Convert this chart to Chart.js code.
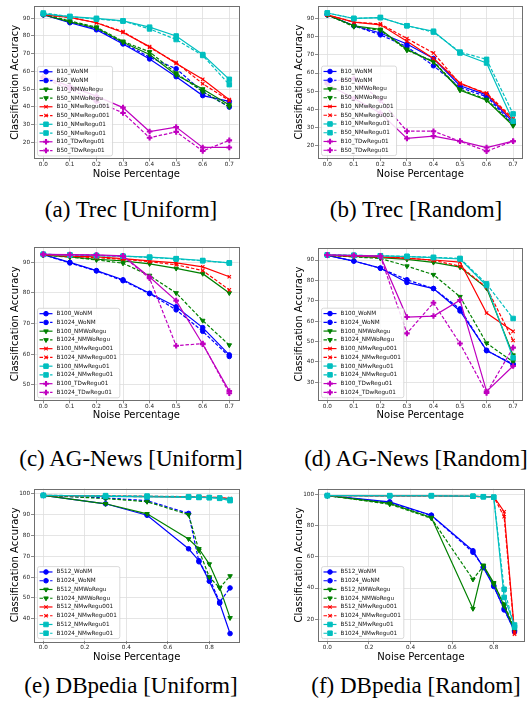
<!DOCTYPE html>
<html lang="en">
<head>
<meta charset="UTF-8">
<title>Classification Accuracy vs Noise Percentage</title>
<script src="https://cdn.jsdelivr.net/npm/chart.js@4"></script>
<style>
  body { margin: 0; background: #fff; }
  #page { position: relative; width: 532px; height: 705px; overflow: hidden; background: #fff; }
  .cell { position: absolute; }
  .caption { position: absolute; font-family: "Liberation Serif", "Times New Roman", serif; font-size: 23px; color: #000; white-space: nowrap; transform: translate(-50%, -50%); }
</style>
</head>
<body>
<div id="page"></div>

<script>
  // ---- x values and tick labels ----
  const xTrec = [0, 0.1, 0.2, 0.3, 0.4, 0.5, 0.6, 0.7];
  const xAg = [0, 0.1, 0.2, 0.3, 0.4, 0.5, 0.6, 0.7];
  const xDb = [0, 0.3, 0.5, 0.7, 0.75, 0.8, 0.85, 0.9];
  const xTicksTrec = [0, 0.1, 0.2, 0.3, 0.4, 0.5, 0.6, 0.7];
  const xTicksDb = [0, 0.2, 0.4, 0.6, 0.8];
  const yTicksTrec = [20, 30, 40, 50, 60, 70, 80, 90];
  const yTicksAgU = [50, 60, 70, 80, 90];
  const yTicksAgR = [30, 40, 50, 60, 70, 80, 90];
  const yTicksDbU = [40, 50, 60, 70, 80, 90, 100];
  const yTicksDbR = [20, 40, 60, 80, 100];

  // ---- (a) Trec [Uniform] ----
  const trecU_B10_WoNM        = [92, 87.5, 83.5, 75.5, 67, 57, 46.3, 43];
  const trecU_B50_WoNM        = [92, 88, 84, 76, 68, 61.5, 48.5, 39.8];
  const trecU_B10_NMWoRegu    = [92, 88, 84.5, 76.5, 69.5, 58, 50, 41];
  const trecU_B50_NMWoRegu    = [92.5, 88.5, 85, 77, 71, 59, 48.5, 40];
  const trecU_B10_NMwRegu001  = [92, 90.5, 87.5, 82, 74, 64.5, 55.5, 44];
  const trecU_B50_NMwRegu001  = [92, 90.5, 87.5, 82.5, 73.5, 65, 53, 43.5];
  const trecU_B10_NMwRegu01   = [92.5, 91, 90, 88.5, 85, 80, 69.5, 55.5];
  const trecU_B50_NMwRegu01   = [93, 91, 89.5, 88.5, 84, 78, 69, 52.5];
  const trecU_B10_TDwRegu01   = [57, 51.5, 46, 39.5, 26, 28.5, 17, 17];
  const trecU_B50_TDwRegu01   = [56, 50, 43, 36.5, 22.5, 25.8, 15, 21];

  // ---- (b) Trec [Random] ----
  const trecR_B10_WoNM        = [92, 86, 82, 76, 68, 53, 48, 33];
  const trecR_B50_WoNM        = [92, 86, 81, 74.5, 64, 52, 47, 32];
  const trecR_B10_NMWoRegu    = [92, 86, 84, 73, 66, 50.5, 45, 31];
  const trecR_B50_NMWoRegu    = [92, 85.5, 83.5, 72.5, 66.5, 51, 45.5, 31.5];
  const trecR_B10_NMwRegu001  = [92, 88, 86.5, 77.5, 68, 54.5, 48.5, 34];
  const trecR_B50_NMwRegu001  = [92, 88, 87, 79, 71, 54, 49, 35];
  const trecR_B10_NMwRegu01   = [93, 90, 90.5, 86, 83, 71, 65.5, 33.5];
  const trecR_B50_NMwRegu01   = [93, 90, 90.5, 86, 82.5, 71.5, 67.5, 37.5];
  const trecR_B10_TDwRegu01   = [54, 46, 38, 24, 25.3, 22.5, 19, 22.5];
  const trecR_B50_TDwRegu01   = [55, 57, 45, 28, 28, 22.5, 17, 22.5];

  // ---- (c) AG-News [Uniform] ----
  const agU_B100_WoNM         = [92.5, 90, 87.3, 84.3, 79.9, 75.5, 68.7, 59.8];
  const agU_B1024_WoNM        = [92.5, 89.8, 87.2, 84, 79.8, 74.5, 67.5, 59.3];
  const agU_B100_NMWoRegu     = [92.3, 91.8, 91, 90.5, 89.5, 88, 86.3, 80];
  const agU_B1024_NMWoRegu    = [92.3, 91.7, 90.8, 89.7, 85.7, 80, 71, 63];
  const agU_B100_NMwRegu001   = [92.5, 92, 91.8, 91.2, 90.5, 89.8, 88.5, 85.3];
  const agU_B1024_NMwRegu001  = [92.5, 92, 91.5, 91, 90.2, 89.2, 87.3, 81];
  const agU_B100_NMwRegu01    = [92.6, 92.4, 92.2, 92, 91.7, 91.2, 90.6, 89.8];
  const agU_B1024_NMwRegu01   = [92.6, 92.4, 92.2, 92, 91.6, 91.1, 90.5, 89.8];
  const agU_B100_TDwRegu01    = [92.6, 92.5, 92.4, 92.1, 85.2, 77.5, 63.3, 48];
  const agU_B1024_TDwRegu01   = [92.6, 92.4, 92.3, 92, 84.8, 62.8, 63.5, 47.3];

  // ---- (d) AG-News [Random] ----
  const agR_B100_WoNM         = [92.3, 89.5, 86, 79, 76, 65, 45.7, 38.5];
  const agR_B1024_WoNM        = [92.3, 89.5, 86, 80.3, 76, 66, 45.5, 39];
  const agR_B100_NMWoRegu     = [92.3, 91.8, 91.2, 90.3, 88.8, 86.5, 76.2, 43.3];
  const agR_B1024_NMWoRegu    = [92.3, 91.5, 90.8, 87, 82.8, 72, 49.2, 40];
  const agR_B100_NMwRegu001   = [92.3, 92, 91.5, 90.8, 90, 89, 64, 55];
  const agR_B1024_NMwRegu001  = [92.3, 92, 91.6, 91, 89.8, 87, 76.5, 50.5];
  const agR_B100_NMwRegu01    = [92.5, 92.3, 92, 91.7, 91.2, 90.5, 77.5, 42];
  const agR_B1024_NMwRegu01   = [92.5, 92.3, 92.1, 91.8, 91.3, 90.8, 78.3, 61.3];
  const agR_B100_TDwRegu01    = [92.5, 92.2, 92, 62, 62.5, 70.3, 25.5, 38];
  const agR_B1024_TDwRegu01   = [92.5, 92.2, 91.8, 54, 69, 49, 24.8, 47];

  // ---- (e) DBpedia [Uniform] ----
  const dbU_B512_WoNM         = [99, 95, 89.5, 73.5, 67.8, 58, 47.5, 33];
  const dbU_B1024_WoNM        = [99, 97.8, 96.5, 90.4, 67.3, 59.5, 48, 54.8];
  const dbU_B512_NMWoRegu     = [99, 95, 90.2, 78.2, 73.5, 66.2, 55, 40.5];
  const dbU_B1024_NMWoRegu    = [99, 97.5, 96, 89.8, 72.8, 60, 54.8, 60.5];
  const dbU_B512_NMwRegu001   = [99, 98.7, 98.5, 98.3, 98.2, 98.1, 98, 97.5];
  const dbU_B1024_NMwRegu001  = [99, 98.6, 98.4, 98.3, 98.2, 98.1, 98, 97.3];
  const dbU_B512_NMwRegu01    = [99, 98.5, 98.3, 98.1, 98, 97.9, 97.6, 96.5];
  const dbU_B1024_NMwRegu01   = [99, 98.9, 98.7, 98.4, 98.2, 98, 97.8, 97];

  // ---- (f) DBpedia [Random] ----
  const dbR_B512_WoNM         = [99, 95, 86.5, 63.8, 53, 41, 26.8, 12];
  const dbR_B1024_WoNM        = [99, 94.5, 86.3, 62.8, 53.5, 41.5, 26, 13];
  const dbR_B512_NMWoRegu     = [99, 94, 85, 26.8, 54.5, 43.3, 28.5, 13];
  const dbR_B1024_NMWoRegu    = [99, 93.5, 84.5, 45.5, 54, 42.5, 29.7, 14];
  const dbR_B512_NMwRegu001   = [99, 98.8, 98.8, 98.5, 98.3, 98.3, 88.7, 11.5];
  const dbR_B1024_NMwRegu001  = [99, 98.8, 98.8, 98.5, 98.3, 98.2, 85.5, 10.5];
  const dbR_B512_NMwRegu01    = [99, 98.8, 98.8, 98.6, 98.2, 98, 34, 16.4];
  const dbR_B1024_NMwRegu01   = [99, 99, 99, 98.6, 98.3, 98, 39.2, 15];

  // marker / colour per method (matplotlib b, g, r, c, m)
  const methodStyle = {
    WoNM:       { color: '#0000ff', point: 'circle',   rot: 0,   r: 2.3, bw: 1 },
    NMWoRegu:   { color: '#008000', point: 'triangle', rot: 180, r: 2.6, bw: 1 },
    NMwRegu001: { color: '#ff0000', point: 'crossRot', rot: 0,   r: 2.4, bw: 1.1 },
    NMwRegu01:  { color: '#00bfbf', point: 'rect',     rot: 0,   r: 3.2, bw: 1 },
    TDwRegu01:  { color: '#bf00bf', point: 'cross',    rot: 0,   r: 2.8, bw: 2.1 }
  };

  function series(label, method, dashed, xs, ys) {
    const s = methodStyle[method];
    return {
      label: label,
      data: xs.map((x, i) => ({ x: x, y: ys[i] })),
      borderColor: s.color,
      backgroundColor: s.color,
      borderWidth: 1.2,
      borderDash: dashed ? [3.5, 1.8] : [],
      pointStyle: s.point,
      pointRotation: s.rot,
      pointRadius: s.r,
      pointBorderWidth: s.bw,
      pointBackgroundColor: s.color,
      pointBorderColor: s.color,
      tension: 0
    };
  }

  // frame around the plot area
  const framePlugin = {
    id: 'frame',
    afterDatasetsDraw(chart) {
      const a = chart.chartArea, ctx = chart.ctx;
      ctx.save();
      ctx.strokeStyle = '#6f6f6f';
      ctx.lineWidth = 1;
      ctx.strokeRect(Math.round(a.left) + 0.5, Math.round(a.top) + 0.5,
                     Math.round(a.right - a.left), Math.round(a.bottom - a.top));
      ctx.restore();
    }
  };

  // matplotlib-like legend in the lower-left corner of the axes
  const insideLegend = {
    id: 'insideLegend',
    afterDraw(chart) {
      const ctx = chart.ctx, a = chart.chartArea;
      const sets = chart.data.datasets;
      const rowH = 8.75;
      ctx.save();
      ctx.font = '5.7px "DejaVu Sans"';
      const textW = Math.max(...sets.map(d => ctx.measureText(d.label).width));
      const boxW = 19 + textW + 3;
      const boxH = sets.length * rowH + 2;
      const x0 = a.left + 3.5, y0 = a.bottom - 2.5 - boxH;
      ctx.fillStyle = 'rgba(255,255,255,0.85)';
      ctx.strokeStyle = '#d0d0d0';
      ctx.lineWidth = 0.8;
      ctx.beginPath();
      if (ctx.roundRect) ctx.roundRect(x0, y0, boxW, boxH, 2); else ctx.rect(x0, y0, boxW, boxH);
      ctx.fill();
      ctx.stroke();
      sets.forEach((d, i) => {
        const cy = y0 + 1 + rowH * (i + 0.5);
        ctx.strokeStyle = d.borderColor;
        ctx.lineWidth = d.borderWidth;
        ctx.setLineDash(d.borderDash);
        ctx.beginPath();
        ctx.moveTo(x0 + 2, cy);
        ctx.lineTo(x0 + 15, cy);
        ctx.stroke();
        ctx.setLineDash([]);
        ctx.fillStyle = d.pointBackgroundColor;
        ctx.strokeStyle = d.pointBorderColor;
        ctx.lineWidth = d.pointBorderWidth;
        Chart.helpers.drawPoint(ctx, {
          pointStyle: d.pointStyle, rotation: d.pointRotation,
          radius: d.pointRadius, borderWidth: d.pointBorderWidth
        }, x0 + 8.5, cy);
        ctx.fillStyle = '#111';
        ctx.textBaseline = 'middle';
        ctx.textAlign = 'left';
        ctx.fillText(d.label, x0 + 19, cy);
      });
      ctx.restore();
    }
  };

  // plotBottom = bottom edge of the plot area inside each canvas
  const panels = [
    { left: 0, top: 0, w: 266, h: 185, padTop: 5, padRight: 27.4, plotBottom: 158.4,
      xMin: -0.035, xMax: 0.735, yMin: 10.8, yMax: 96.9, xTicks: xTicksTrec, yTicks: yTicksTrec,
      caption: '(a) Trec [Uniform]', capX: 131, capY: 210,
      sets: [
        series('B10_WoNM', 'WoNM', false, xTrec, trecU_B10_WoNM),
        series('B50_WoNM', 'WoNM', true, xTrec, trecU_B50_WoNM),
        series('B10_NMWoRegu', 'NMWoRegu', false, xTrec, trecU_B10_NMWoRegu),
        series('B50_NMWoRegu', 'NMWoRegu', true, xTrec, trecU_B50_NMWoRegu),
        series('B10_NMwRegu001', 'NMwRegu001', false, xTrec, trecU_B10_NMwRegu001),
        series('B50_NMwRegu001', 'NMwRegu001', true, xTrec, trecU_B50_NMwRegu001),
        series('B10_NMwRegu01', 'NMwRegu01', false, xTrec, trecU_B10_NMwRegu01),
        series('B50_NMwRegu01', 'NMwRegu01', true, xTrec, trecU_B50_NMwRegu01),
        series('B10_TDwRegu01', 'TDwRegu01', false, xTrec, trecU_B10_TDwRegu01),
        series('B50_TDwRegu01', 'TDwRegu01', true, xTrec, trecU_B50_TDwRegu01)
      ] },
    { left: 284, top: 0, w: 248, h: 185, padTop: 5.9, padRight: 9.6, plotBottom: 158.1,
      xMin: -0.035, xMax: 0.735, yMin: 13.2, yMax: 96.8, xTicks: xTicksTrec, yTicks: yTicksTrec,
      caption: '(b) Trec [Random]', capX: 416, capY: 210,
      sets: [
        series('B10_WoNM', 'WoNM', false, xTrec, trecR_B10_WoNM),
        series('B50_WoNM', 'WoNM', true, xTrec, trecR_B50_WoNM),
        series('B10_NMWoRegu', 'NMWoRegu', false, xTrec, trecR_B10_NMWoRegu),
        series('B50_NMWoRegu', 'NMWoRegu', true, xTrec, trecR_B50_NMWoRegu),
        series('B10_NMwRegu001', 'NMwRegu001', false, xTrec, trecR_B10_NMwRegu001),
        series('B50_NMwRegu001', 'NMwRegu001', true, xTrec, trecR_B50_NMwRegu001),
        series('B10_NMwRegu01', 'NMwRegu01', false, xTrec, trecR_B10_NMwRegu01),
        series('B50_NMwRegu01', 'NMwRegu01', true, xTrec, trecR_B50_NMwRegu01),
        series('B10_TDwRegu01', 'TDwRegu01', false, xTrec, trecR_B10_TDwRegu01),
        series('B50_TDwRegu01', 'TDwRegu01', true, xTrec, trecR_B50_TDwRegu01)
      ] },
    { left: 0, top: 240, w: 266, h: 186, padTop: 7.3, padRight: 27.4, plotBottom: 160.3,
      xMin: -0.035, xMax: 0.735, yMin: 45.0, yMax: 94.9, xTicks: xTicksTrec, yTicks: yTicksAgU,
      caption: '(c) AG-News [Uniform]', capX: 131, capY: 459,
      sets: [
        series('B100_WoNM', 'WoNM', false, xAg, agU_B100_WoNM),
        series('B1024_WoNM', 'WoNM', true, xAg, agU_B1024_WoNM),
        series('B100_NMWoRegu', 'NMWoRegu', false, xAg, agU_B100_NMWoRegu),
        series('B1024_NMWoRegu', 'NMWoRegu', true, xAg, agU_B1024_NMWoRegu),
        series('B100_NMwRegu001', 'NMwRegu001', false, xAg, agU_B100_NMwRegu001),
        series('B1024_NMwRegu001', 'NMwRegu001', true, xAg, agU_B1024_NMwRegu001),
        series('B100_NMwRegu01', 'NMwRegu01', false, xAg, agU_B100_NMwRegu01),
        series('B1024_NMwRegu01', 'NMwRegu01', true, xAg, agU_B1024_NMwRegu01),
        series('B100_TDwRegu01', 'TDwRegu01', false, xAg, agU_B100_TDwRegu01),
        series('B1024_TDwRegu01', 'TDwRegu01', true, xAg, agU_B1024_TDwRegu01)
      ] },
    { left: 284, top: 240, w: 248, h: 186, padTop: 8, padRight: 9.6, plotBottom: 160.2,
      xMin: -0.035, xMax: 0.735, yMin: 21.2, yMax: 95.9, xTicks: xTicksTrec, yTicks: yTicksAgR,
      caption: '(d) AG-News [Random]', capX: 416, capY: 459,
      sets: [
        series('B100_WoNM', 'WoNM', false, xAg, agR_B100_WoNM),
        series('B1024_WoNM', 'WoNM', true, xAg, agR_B1024_WoNM),
        series('B100_NMWoRegu', 'NMWoRegu', false, xAg, agR_B100_NMWoRegu),
        series('B1024_NMWoRegu', 'NMWoRegu', true, xAg, agR_B1024_NMWoRegu),
        series('B100_NMwRegu001', 'NMwRegu001', false, xAg, agR_B100_NMwRegu001),
        series('B1024_NMwRegu001', 'NMwRegu001', true, xAg, agR_B1024_NMwRegu001),
        series('B100_NMwRegu01', 'NMwRegu01', false, xAg, agR_B100_NMwRegu01),
        series('B1024_NMwRegu01', 'NMwRegu01', true, xAg, agR_B1024_NMwRegu01),
        series('B100_TDwRegu01', 'TDwRegu01', false, xAg, agR_B100_TDwRegu01),
        series('B1024_TDwRegu01', 'TDwRegu01', true, xAg, agR_B1024_TDwRegu01)
      ] },
    { left: 0, top: 480, w: 266, h: 188, padTop: 8.5, padRight: 26.6, plotBottom: 161.1,
      xMin: -0.045, xMax: 0.945, yMin: 29.4, yMax: 102.3, xTicks: xTicksDb, yTicks: yTicksDbU,
      caption: '(e) DBpedia [Uniform]', capX: 131, capY: 686,
      sets: [
        series('B512_WoNM', 'WoNM', false, xDb, dbU_B512_WoNM),
        series('B1024_WoNM', 'WoNM', true, xDb, dbU_B1024_WoNM),
        series('B512_NMWoRegu', 'NMWoRegu', false, xDb, dbU_B512_NMWoRegu),
        series('B1024_NMWoRegu', 'NMWoRegu', true, xDb, dbU_B1024_NMWoRegu),
        series('B512_NMwRegu001', 'NMwRegu001', false, xDb, dbU_B512_NMwRegu001),
        series('B1024_NMwRegu001', 'NMwRegu001', true, xDb, dbU_B1024_NMwRegu001),
        series('B512_NMwRegu01', 'NMwRegu01', false, xDb, dbU_B512_NMwRegu01),
        series('B1024_NMwRegu01', 'NMwRegu01', true, xDb, dbU_B1024_NMwRegu01)
      ] },
    { left: 283.6, top: 480, w: 248.4, h: 188, padTop: 8.7, padRight: 8.1, plotBottom: 161.1,
      xMin: -0.045, xMax: 0.945, yMin: 6.1, yMax: 103.4, xTicks: xTicksDb, yTicks: yTicksDbR,
      caption: '(f) DBpedia [Random]', capX: 416, capY: 686,
      sets: [
        series('B512_WoNM', 'WoNM', false, xDb, dbR_B512_WoNM),
        series('B1024_WoNM', 'WoNM', true, xDb, dbR_B1024_WoNM),
        series('B512_NMWoRegu', 'NMWoRegu', false, xDb, dbR_B512_NMWoRegu),
        series('B1024_NMWoRegu', 'NMWoRegu', true, xDb, dbR_B1024_NMWoRegu),
        series('B512_NMwRegu001', 'NMwRegu001', false, xDb, dbR_B512_NMwRegu001),
        series('B1024_NMwRegu001', 'NMwRegu001', true, xDb, dbR_B1024_NMwRegu001),
        series('B512_NMwRegu01', 'NMwRegu01', false, xDb, dbR_B512_NMwRegu01),
        series('B1024_NMwRegu01', 'NMwRegu01', true, xDb, dbR_B1024_NMwRegu01)
      ] }
  ];

  const page = document.getElementById('page');
  const tickFont = { family: '"DejaVu Sans"', size: 5.7 };
  const titleFont = { family: '"DejaVu Sans"', size: 10 };
  const gridStyle = { color: '#dedede', lineWidth: 0.8, tickLength: 3, tickColor: '#6f6f6f', drawTicks: true };

  panels.forEach(p => {
    const div = document.createElement('div');
    div.className = 'cell';
    div.style.left = p.left + 'px';
    div.style.top = p.top + 'px';
    div.style.width = p.w + 'px';
    div.style.height = p.h + 'px';
    const canvas = document.createElement('canvas');
    canvas.width = p.w;
    canvas.height = p.h;
    div.appendChild(canvas);
    page.appendChild(div);

    const cap = document.createElement('div');
    cap.className = 'caption';
    cap.textContent = p.caption;
    cap.style.left = p.capX + 'px';
    cap.style.top = p.capY + 'px';
    page.appendChild(cap);

    const n = p.sets.length;
    p.sets.forEach((d, i) => { d.order = n - i; });

    new Chart(canvas.getContext('2d'), {
      type: 'line',
      data: { datasets: p.sets },
      options: {
        responsive: false,
        animation: false,
        devicePixelRatio: 1,
        layout: { padding: { top: p.padTop, right: p.padRight, left: 0, bottom: 0 } },
        plugins: { legend: { display: false }, tooltip: { enabled: false } },
        scales: {
          x: {
            type: 'linear', min: p.xMin, max: p.xMax,
            afterBuildTicks: s => { s.ticks = p.xTicks.map(v => ({ value: v })); },
            afterFit: s => { s.height = p.h - p.plotBottom; },
            ticks: { font: tickFont, color: '#222', padding: 0, maxRotation: 0,
                     callback: v => v.toFixed(1) },
            grid: gridStyle,
            border: { display: false },
            title: { display: true, text: 'Noise Percentage', font: titleFont, color: '#000',
                     padding: { top: 0, bottom: 5 } }
          },
          y: {
            type: 'linear', min: p.yMin, max: p.yMax,
            afterBuildTicks: s => { s.ticks = p.yTicks.map(v => ({ value: v })); },
            afterFit: s => { s.width = 34; },
            ticks: { font: tickFont, color: '#222', padding: 1, callback: v => String(v) },
            grid: gridStyle,
            border: { display: false },
            title: { display: true, text: 'Classification Accuracy', font: titleFont, color: '#000',
                     padding: { top: 9, bottom: 0 } }
          }
        }
      },
      plugins: [framePlugin, insideLegend]
    });
  });
</script>
</body>
</html>
